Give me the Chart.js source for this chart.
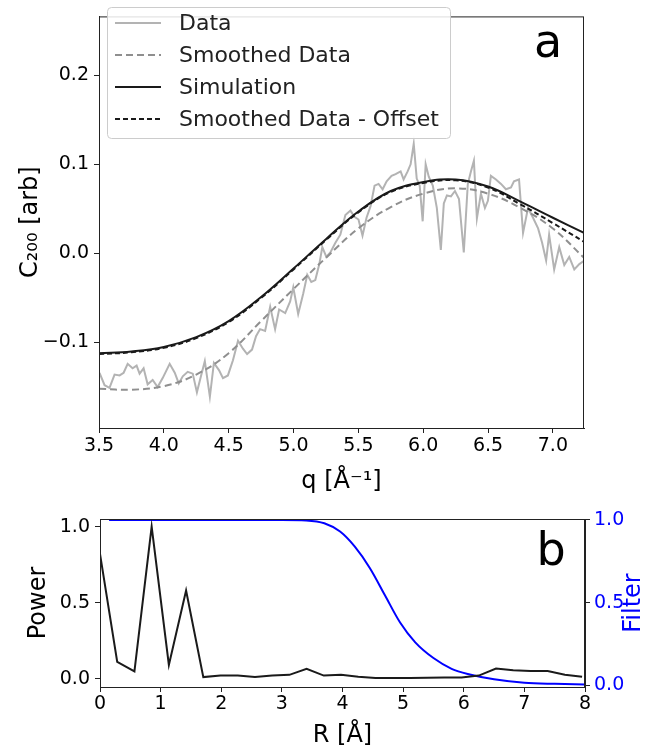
<!DOCTYPE html>
<html>
<head>
<meta charset="utf-8">
<script src="https://cdn.jsdelivr.net/npm/chart.js@4.4.0/dist/chart.umd.min.js"></script>
<style>
  body { margin: 0; background: #fff; }
  #wrap { position: relative; width: 651px; height: 748px; }
  #top { position: absolute; left: 0; top: 0; }
  #bot { position: absolute; left: 0; top: 500px; }
</style>
</head>
<body>
<div id="wrap">
  <canvas id="top" width="651" height="500"></canvas>
  <canvas id="bot" width="651" height="248"></canvas>
</div>
<script>
// panel a : raw data
const dataQ = [3.504,3.543,3.581,3.620,3.659,3.690,3.721,3.759,3.790,3.813,
  3.844,3.875,3.914,3.952,3.991,4.045,4.084,4.115,4.146,4.184,
  4.223,4.255,4.286,4.316,4.355,4.386,4.425,4.456,4.494,4.533,
  4.572,4.610,4.642,4.680,4.711,4.742,4.781,4.820,4.858,4.889,
  4.936,4.974,4.998,5.036,5.075,5.106,5.137,5.168,5.199,5.222,
  5.253,5.284,5.323,5.361,5.400,5.439,5.470,5.501,5.532,5.563,
  5.594,5.625,5.656,5.687,5.718,5.756,5.787,5.826,5.849,5.880,
  5.903,5.927,5.950,5.973,5.996,6.019,6.043,6.074,6.105,6.136,
  6.159,6.183,6.214,6.245,6.276,6.313,6.344,6.368,6.391,6.414,
  6.445,6.476,6.499,6.522,6.561,6.600,6.638,6.677,6.700,6.739,
  6.770,6.808,6.847,6.886,6.917,6.948,6.971,7.010,7.049,7.088,
  7.126,7.165,7.204,7.243];
const dataC = [-0.134,-0.148,-0.151,-0.136,-0.137,-0.134,-0.124,-0.129,-0.126,-0.135,
  -0.129,-0.147,-0.142,-0.150,-0.140,-0.124,-0.134,-0.146,-0.138,-0.133,
  -0.135,-0.156,-0.138,-0.121,-0.161,-0.123,-0.131,-0.140,-0.137,-0.120,
  -0.098,-0.107,-0.113,-0.108,-0.093,-0.085,-0.087,-0.060,-0.085,-0.063,
  -0.067,-0.054,-0.038,-0.068,-0.045,-0.024,-0.032,-0.030,-0.012,0.007,
  -0.004,0.001,0.012,0.021,0.043,0.048,0.041,0.038,0.020,0.040,
  0.053,0.076,0.078,0.072,0.081,0.087,0.089,0.092,0.083,0.092,
  0.100,0.123,0.084,0.076,0.036,0.100,0.086,0.076,0.051,0.004,
  0.056,0.065,0.064,0.070,0.061,0.001,0.078,0.092,0.104,0.039,
  0.067,0.051,0.059,0.087,0.083,0.078,0.072,0.074,0.081,0.083,
  0.023,0.051,0.040,0.028,0.012,-0.008,0.021,-0.018,0.007,-0.013,
  -0.004,-0.018,-0.012,-0.008];

// smooth curves
const smoothQ = [3.5,3.75,4.0,4.25,4.5,4.75,5.0,5.25,5.5,5.75,6.0,6.25,6.5,6.75,7.0,7.24];
const smoothed = [-0.152,-0.153,-0.149,-0.136,-0.112,-0.076,-0.040,-0.005,0.028,0.052,0.067,0.073,0.067,0.051,0.028,-0.005];
const simulation = [-0.112,-0.110,-0.105,-0.094,-0.076,-0.049,-0.017,0.016,0.047,0.070,0.080,0.083,0.075,0.058,0.040,0.023];
const smoothedOffset = [-0.113,-0.111,-0.106,-0.095,-0.077,-0.050,-0.018,0.015,0.046,0.069,0.079,0.082,0.074,0.055,0.034,0.013];

const xTicksTop = [3.5,4.0,4.5,5.0,5.5,6.0,6.5,7.0];
const yTicksTop = [-0.1,0.0,0.1,0.2];

// panel b
const powerR = [0,0.284,0.568,0.852,1.136,1.42,1.704,1.988,2.272,2.556,
  2.84,3.124,3.408,3.692,3.976,4.26,4.544,4.828,5.112,5.396,
  5.68,5.964,6.248,6.532,6.816,7.1,7.384,7.668,7.952];
const power = [0.82,0.11,0.048,1.0,0.09,0.58,0.01,0.02,0.02,0.01,
  0.02,0.025,0.065,0.02,0.025,0.012,0.004,0.004,0.005,0.006,
  0.008,0.008,0.02,0.066,0.055,0.05,0.05,0.025,0.012];
const filterR = [0.15,0.5,1,1.5,2,2.5,3,3.4,3.7,3.96,4.2,4.45,4.7,4.95,5.2,5.5,5.8,6.1,6.5,7.0,7.5,8.0];
const filterVals = [1,1,1,1,1,1,1,0.997,0.98,0.93,0.84,0.71,0.545,0.38,0.26,0.165,0.10,0.066,0.037,0.016,0.009,0.005];

const xTicksBot = [0,1,2,3,4,5,6,7,8];
const yTicksBot = [0.0,0.5,1.0];

Chart.defaults.font.family = "'DejaVu Sans', sans-serif";
Chart.defaults.color = '#000';
Chart.defaults.animation = false;

function pts(xs, ys) {
  return xs.map((x, i) => ({ x: x, y: ys[i] }));
}
function fmt(v) {
  const s = Math.abs(v) < 1e-9 ? '0.0' : Math.abs(v).toFixed(1);
  return v < -1e-9 ? '\u2212' + s : s;
}

// frame around plot area + panel letter
const frame = {
  id: 'frame',
  afterDraw(chart, args, opts) {
    const { ctx, chartArea: a } = chart;
    ctx.save();
    ctx.strokeStyle = '#222';
    ctx.lineWidth = 1;
    ctx.strokeRect(a.left + 0.5, a.top + 0.5, a.right - a.left - 1, a.bottom - a.top);
    ctx.fillStyle = '#000';
    ctx.font = "46px 'DejaVu Sans'";
    ctx.textAlign = 'center';
    ctx.textBaseline = 'middle';
    ctx.fillText(opts.letter, a.right - opts.dx, a.top + opts.dy);
    ctx.restore();
  }
};

// matplotlib-like legend box inside panel a
const boxLegend = {
  id: 'boxLegend',
  afterDraw(chart) {
    const { ctx } = chart;
    ctx.save();
    ctx.fillStyle = 'rgba(255,255,255,0.85)';
    ctx.strokeStyle = '#cccccc';
    ctx.lineWidth = 1;
    ctx.beginPath();
    ctx.roundRect(107.5, 7.5, 343, 131, 4);
    ctx.fill();
    ctx.stroke();
    ctx.font = "22px 'DejaVu Sans'";
    ctx.textBaseline = 'middle';
    chart.data.datasets.forEach((ds, i) => {
      const y = 23 + i * 32;
      ctx.strokeStyle = ds.borderColor;
      ctx.lineWidth = ds.borderWidth;
      ctx.setLineDash(ds.borderDash || []);
      ctx.beginPath();
      ctx.moveTo(115, y);
      ctx.lineTo(161, y);
      ctx.stroke();
      ctx.setLineDash([]);
      ctx.fillStyle = '#222';
      ctx.fillText(ds.label, 179, y + 1);
    });
    ctx.restore();
  }
};

// right axis title reading upwards like matplotlib
const rightTitle = {
  id: 'rightTitle',
  afterDraw(chart) {
    const { ctx, chartArea: a } = chart;
    ctx.save();
    ctx.translate(634, (a.top + a.bottom) / 2);
    ctx.rotate(-Math.PI / 2);
    ctx.fillStyle = '#0000ff';
    ctx.font = "24px 'DejaVu Sans'";
    ctx.textAlign = 'center';
    ctx.textBaseline = 'middle';
    ctx.fillText('Filter', 0, 0);
    ctx.restore();
  }
};

const tickGrid = { drawOnChartArea: false, tickLength: 5, color: '#222' };

new Chart(document.getElementById('top'), {
  type: 'line',
  data: {
    datasets: [
      { label: 'Data', data: pts(dataQ, dataC), borderColor: '#b3b3b3', borderWidth: 2,
        pointRadius: 0, tension: 0, order: 4 },
      { label: 'Smoothed Data', data: pts(smoothQ, smoothed), borderColor: '#8f8f8f', borderWidth: 2,
        borderDash: [7, 4], pointRadius: 0, tension: 0.4, order: 3 },
      { label: 'Simulation', data: pts(smoothQ, simulation), borderColor: '#1a1a1a', borderWidth: 2,
        pointRadius: 0, tension: 0.4, order: 2 },
      { label: 'Smoothed Data - Offset', data: pts(smoothQ, smoothedOffset), borderColor: '#1a1a1a', borderWidth: 2,
        borderDash: [5, 3], pointRadius: 0, tension: 0.4, order: 1 }
    ]
  },
  options: {
    responsive: false,
    layout: { padding: { top: 10, right: 67, left: 0, bottom: 0 } },
    plugins: {
      legend: { display: false },
      tooltip: { enabled: false },
      frame: { letter: 'a', dx: 36, dy: 29 }
    },
    scales: {
      x: {
        type: 'linear', min: 3.5, max: 7.24,
        afterBuildTicks: s => { s.ticks = xTicksTop.map(v => ({ value: v })); },
        afterFit: s => { s.height = 72; },
        ticks: { callback: v => v.toFixed(1), font: { size: 19 }, padding: 2, maxRotation: 0 },
        grid: tickGrid,
        border: { color: '#222' },
        title: { display: true, text: 'q [Å⁻¹]', font: { size: 24 }, padding: { top: 2, bottom: 4 } }
      },
      y: {
        min: -0.196, max: 0.266,
        afterBuildTicks: s => { s.ticks = yTicksTop.map(v => ({ value: v })); },
        afterFit: s => { s.width = 99; },
        ticks: { callback: v => fmt(v), font: { size: 19 }, padding: 5 },
        grid: tickGrid,
        border: { color: '#222' },
        title: { display: true, text: 'C₂₀₀ [arb]', font: { size: 24 }, padding: { top: 16, bottom: 4 } }
      }
    }
  },
  plugins: [frame, boxLegend]
});

new Chart(document.getElementById('bot'), {
  type: 'line',
  data: {
    datasets: [
      { label: 'Power', data: pts(powerR, power), borderColor: '#1a1a1a', borderWidth: 2,
        pointRadius: 0, tension: 0, yAxisID: 'y' },
      { label: 'Filter', data: pts(filterR, filterVals), borderColor: '#0000ff', borderWidth: 2,
        pointRadius: 0, cubicInterpolationMode: 'monotone', yAxisID: 'y2' }
    ]
  },
  options: {
    responsive: false,
    layout: { padding: { top: 19, right: 0, left: 0, bottom: 0 } },
    plugins: {
      legend: { display: false },
      tooltip: { enabled: false },
      frame: { letter: 'b', dx: 34, dy: 34 }
    },
    scales: {
      x: {
        type: 'linear', min: 0, max: 8,
        afterBuildTicks: s => { s.ticks = xTicksBot.map(v => ({ value: v })); },
        afterFit: s => { s.height = 61; },
        ticks: { callback: v => String(v), font: { size: 19 }, padding: 1, maxRotation: 0 },
        grid: tickGrid,
        border: { color: '#222' },
        title: { display: true, text: 'R [Å]', font: { size: 24, lineHeight: 1 }, padding: { top: 0, bottom: 0 } }
      },
      y: {
        min: -0.055, max: 1.05,
        afterBuildTicks: s => { s.ticks = yTicksBot.map(v => ({ value: v })); },
        afterFit: s => { s.width = 100; },
        ticks: { callback: v => fmt(v), font: { size: 19 }, padding: 5 },
        grid: tickGrid,
        border: { color: '#222' },
        title: { display: true, text: 'Power', font: { size: 24 }, padding: { top: 24, bottom: 4 } }
      },
      y2: {
        position: 'right', min: -0.01, max: 1.006,
        afterBuildTicks: s => { s.ticks = yTicksBot.map(v => ({ value: v })); },
        afterFit: s => { s.width = 66; },
        ticks: { callback: v => fmt(v), font: { size: 19 }, padding: 4, color: '#0000ff' },
        grid: tickGrid,
        border: { color: '#222' }
      }
    }
  },
  plugins: [frame, rightTitle]
});
</script>
</body>
</html>
